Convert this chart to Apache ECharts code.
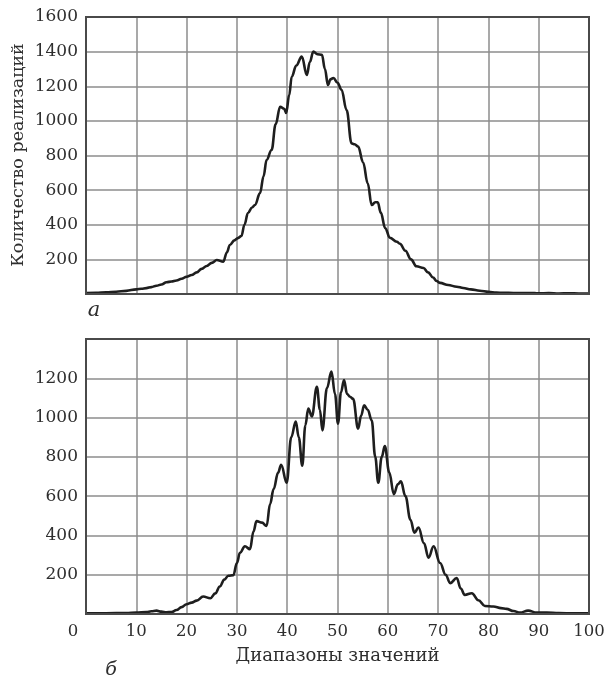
<!DOCTYPE html>
<html>
<head>
<meta charset="utf-8">
<script src="https://cdn.jsdelivr.net/npm/echarts@6/dist/echarts.min.js"></script>
<style>
  html, body { margin: 0; padding: 0; background: #fff; }
  #chart { width: 609px; height: 680px; }
</style>
</head>
<body>
<div id="chart"></div>
<script>
// Distribution (а): position of each sample along the value range and its count
const xA = [0, 2, 4, 6, 8, 10, 11, 12, 13, 14, 15, 16, 17, 18, 19, 20, 21, 22, 23, 24, 25, 26, 27.3, 28, 28.6, 29.5, 30.2, 30.9, 31.5, 32.2, 33, 33.6, 34.6, 35.3, 35.9, 36.9, 37.7, 38.6, 39.4, 39.8, 40.4, 40.9, 41.8, 42.9, 43.9, 44.5, 45.2, 46, 46.9, 47.5, 48.1, 48.6, 49.2, 50, 50.8, 51.8, 52.8, 53.4, 54.1, 55.1, 56, 56.8, 57.5, 58, 58.6, 59.5, 60.4, 61.8, 62.4, 63.5, 64.6, 65.7, 67.1, 68, 69, 69.7, 70.4, 72, 73.7, 75, 76.5, 78.3, 80, 81.6, 83, 85, 87, 88.3, 90, 92, 94, 96, 98, 100];
const yA = [5, 7, 10, 13, 18, 27, 30, 34, 40, 48, 55, 68, 72, 78, 88, 100, 110, 125, 145, 162, 180, 196, 187, 240, 283, 310, 323, 335, 400, 468, 500, 514, 583, 680, 774, 832, 980, 1082, 1070, 1046, 1150, 1255, 1320, 1371, 1265, 1340, 1400, 1385, 1381, 1300, 1207, 1240, 1248, 1220, 1180, 1063, 870, 865, 851, 760, 640, 514, 530, 530, 470, 380, 325, 302, 290, 250, 200, 160, 150, 125, 95, 75, 64, 52, 42, 35, 27, 19, 13, 8, 7, 6, 6, 6, 4, 5, 3, 4, 3, 3];

// Distribution (б)
const xB = [0, 4, 8, 10, 12, 13, 14, 15, 16, 17, 18, 19, 20, 21, 22, 23.3, 24.7, 25.7, 26.6, 27.5, 28.3, 29.3, 30, 30.6, 31.6, 32.6, 33.3, 33.9, 35, 35.9, 36.6, 37.3, 38.2, 38.8, 39.9, 40.8, 41.7, 42.3, 43, 43.6, 44.2, 44.9, 45.9, 46.5, 47, 47.9, 48.8, 49.5, 50.1, 50.7, 51.3, 51.9, 52.5, 53.1, 54.1, 54.7, 55.3, 56, 56.8, 57.5, 58.1, 58.8, 59.4, 60.3, 61.2, 62, 62.6, 63.5, 64.5, 65.3, 66.1, 67.2, 68.1, 69.1, 70.4, 71.5, 72.4, 73.7, 74.5, 75.3, 76.7, 78, 79.3, 81, 82.5, 83.6, 85, 86.3, 87.9, 89.6, 91.6, 94, 97, 100];
const yB = [3, 4, 5, 7, 10, 14, 17, 12, 9, 10, 20, 35, 50, 58, 68, 89, 80, 105, 140, 175, 195, 198, 260, 311, 345, 330, 420, 473, 465, 448, 560, 636, 720, 760, 668, 900, 980, 900, 755, 960, 1046, 1006, 1157, 1040, 935, 1150, 1234, 1120, 969, 1130, 1191, 1120, 1106, 1095, 944, 1010, 1063, 1040, 986, 800, 668, 800, 855, 720, 610, 660, 675, 600, 480, 414, 440, 360, 286, 345, 260, 200, 157, 183, 130, 97, 106, 70, 41, 38, 30, 26, 15, 7, 17, 7, 7, 5, 3, 3];

const xTicks = [0, 100, 10];          // min, max, step of the value-range axis
const yTicksA = [0, 1600, 200];
const yTicksB = [0, 1400, 200];

const xTitle = 'Диапазоны значений';
const yTitle = 'Количество реализаций';
const panelA = 'а';
const panelB = 'б';

// Layout
const L = 86, R = 20;
const gA = { top: 17, height: 277 };
const gB = { top: 339, height: 275 };
const W = 609;

const serif = '"DejaVu Serif", "Liberation Serif", serif';
const textColor = '#2e2e2e';
const gridLineColor = '#8c8c8c';
const frameColor = '#4a4a4a';

const pairs = (xs, ys) => xs.map((x, i) => [x, ys[i]]);

function xAxisCfg(idx, showLabels) {
  return {
    type: 'value', gridIndex: idx,
    min: xTicks[0], max: xTicks[1], interval: xTicks[2],
    axisLine: { show: false }, axisTick: { show: false },
    splitLine: { show: true, lineStyle: { color: gridLineColor, width: 1.5 } },
    axisLabel: showLabels ? {
      show: true, margin: 9, color: textColor, fontFamily: serif, fontSize: 16.5,
      formatter: v => v === 0 ? '{z|0}' : String(v),
      rich: { z: { padding: [0, 26, 0, 0], fontFamily: serif, fontSize: 16.5, color: textColor } }
    } : { show: false },
    name: showLabels ? xTitle : '',
    nameLocation: 'middle', nameGap: 33,
    nameTextStyle: { fontFamily: serif, fontSize: 18, color: textColor }
  };
}

function yAxisCfg(idx, ticks, topShown) {
  return {
    type: 'value', gridIndex: idx,
    min: ticks[0], max: ticks[1], interval: ticks[2],
    axisLine: { show: false }, axisTick: { show: false },
    splitLine: { show: true, lineStyle: { color: gridLineColor, width: 1.5 } },
    axisLabel: {
      margin: 8, color: textColor, fontFamily: serif, fontSize: 17,
      formatter: v => (v === 0 || v > topShown) ? '' : String(v)
    }
  };
}

function frame(g) {
  return {
    type: 'rect', z: 100, silent: true,
    shape: { x: L, y: g.top, width: W - L - R, height: g.height },
    style: { fill: 'none', stroke: frameColor, lineWidth: 2 }
  };
}

const chart = echarts.init(document.getElementById('chart'), null, { renderer: 'canvas' });
chart.setOption({
  animation: false,
  backgroundColor: '#fff',
  grid: [
    { left: L, right: R, top: gA.top, height: gA.height },
    { left: L, right: R, top: gB.top, height: gB.height }
  ],
  xAxis: [xAxisCfg(0, false), xAxisCfg(1, true)],
  yAxis: [yAxisCfg(0, yTicksA, 1600), yAxisCfg(1, yTicksB, 1200)],
  series: [
    {
      type: 'line', xAxisIndex: 0, yAxisIndex: 0,
      data: pairs(xA, yA), showSymbol: false, smooth: 0.4, smoothMonotone: 'x',
      lineStyle: { color: '#1e1e1e', width: 2.6 }
    },
    {
      type: 'line', xAxisIndex: 1, yAxisIndex: 1,
      data: pairs(xB, yB), showSymbol: false, smooth: 0.4, smoothMonotone: 'x',
      lineStyle: { color: '#1e1e1e', width: 2.6 }
    }
  ],
  graphic: [
    frame(gA),
    frame(gB),
    {
      type: 'text', x: 18, y: 155, rotation: Math.PI / 2,
      style: { text: yTitle, font: '17.5px ' + serif, fill: textColor, align: 'center', verticalAlign: 'middle' }
    },
    {
      type: 'text', x: 94, y: 311,
      style: { text: panelA, font: 'italic 21px ' + serif, fill: textColor, align: 'center', verticalAlign: 'middle' }
    },
    {
      type: 'text', x: 111, y: 670,
      style: { text: panelB, font: 'italic 19px ' + serif, fill: textColor, align: 'center', verticalAlign: 'middle' }
    }
  ]
});
</script>
</body>
</html>
